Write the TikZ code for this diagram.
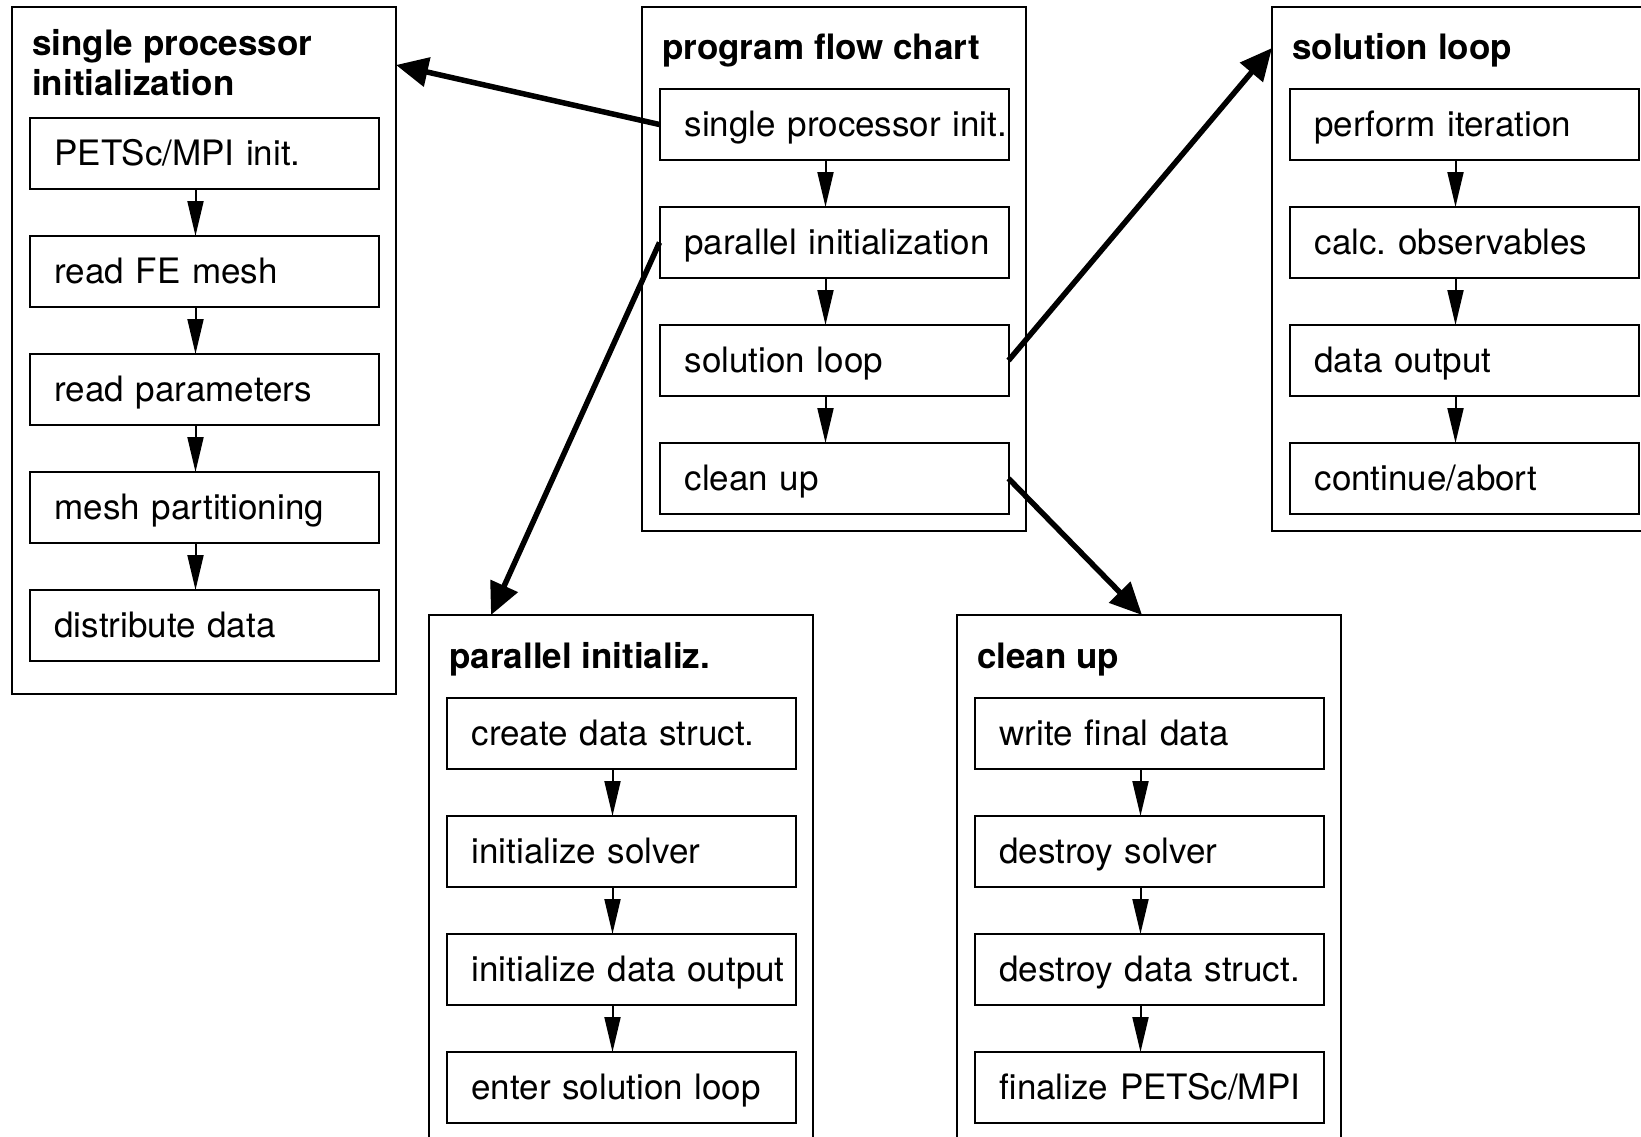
\documentclass[tikz,border=0pt]{standalone}
\usepackage{fontspec}
\setmainfont{TeX Gyre Heros}
\usetikzlibrary{arrows.meta,calc}
\frenchspacing
\newcommand\flowstepfont{\fontsize{35}{40}\selectfont}
\newcommand\flowheadfont{\fontsize{35}{40}\selectfont\bfseries}
\begin{document}
\begin{tikzpicture}[x=1pt,y=-1pt,
  group/.style={draw, line width=2.3pt, minimum width=384pt, anchor=north west,
    inner sep=0pt, outer sep=0pt},
  stepbox/.style={draw, line width=2pt, anchor=north west, minimum width=349pt,
    minimum height=71pt, inner sep=0pt, outer sep=0pt, text width=349pt, align=left,
    text height=23pt, text depth=0pt, font=\flowstepfont,
    execute at begin node={\hspace*{25pt}}},
  grouptitle/.style={anchor=base west, inner sep=0pt, font=\flowheadfont},
  flow/.style={line width=2pt, -{Triangle[length=35pt,width=16pt]}},
  link/.style={line width=5.5pt, -{Triangle[length=32pt,width=29pt]}},
]
\useasboundingbox (0,0) rectangle (1641,1137);
\clip (0,0) rectangle (1641,1137);
\fill[white] (0,0) rectangle (1641,1137);

% group frames
\node[group, minimum height=687pt] (spG) at (12,7) {};
\node[group, minimum height=524pt] (pfG) at (642,7) {};
\node[group, minimum height=524pt] (slG) at (1272,7) {};
\node[group, minimum height=560pt] (piG) at (429,615) {};
\node[group, minimum height=560pt] (cuG) at (957,615) {};

% group titles
\node[grouptitle] (spT) at (32,55.5)
  {\begin{tabular}[t]{@{}l@{}}single processor\\initialization\end{tabular}};
\node[grouptitle] (pfT) at (662,60) {program flow chart};
\node[grouptitle] (slT) at (1292,60) {solution loop};
\node[grouptitle] (piT) at (449,668.5) {parallel initializ.};
\node[grouptitle] (cuT) at (977,668) {clean up};

% single processor initialization
\node[stepbox] (sp1) at (29.5,118) {PETSc/MPI init.};
\node[stepbox] (sp2) at (29.5,236) {read FE mesh};
\node[stepbox] (sp3) at (29.5,354) {read parameters};
\node[stepbox] (sp4) at (29.5,472) {mesh partitioning};
\node[stepbox] (sp5) at (29.5,590) {distribute data};

% program flow chart
\node[stepbox] (pf1) at (659.5,89) {single processor init.};
\node[stepbox] (pf2) at (659.5,207) {parallel initialization};
\node[stepbox] (pf3) at (659.5,325) {solution loop};
\node[stepbox] (pf4) at (659.5,443) {clean up};

% solution loop
\node[stepbox] (sl1) at (1289.5,89) {perform iteration};
\node[stepbox] (sl2) at (1289.5,207) {calc. observables};
\node[stepbox] (sl3) at (1289.5,325) {data output};
\node[stepbox] (sl4) at (1289.5,443) {continue/abort};

% parallel initialization
\node[stepbox] (pi1) at (446.5,698) {create data struct.};
\node[stepbox] (pi2) at (446.5,816) {initialize solver};
\node[stepbox] (pi3) at (446.5,934) {initialize data output};
\node[stepbox] (pi4) at (446.5,1052) {enter solution loop};

% clean up
\node[stepbox] (cu1) at (974.5,698) {write final data};
\node[stepbox] (cu2) at (974.5,816) {destroy solver};
\node[stepbox] (cu3) at (974.5,934) {destroy data struct.};
\node[stepbox] (cu4) at (974.5,1052) {finalize PETSc/MPI};

% arrows inside each group
\foreach \g/\n in {sp/4, pf/3, sl/3, pi/3, cu/3} {
  \foreach \i in {1,...,\n} {
    \pgfmathtruncatemacro\j{\i+1}
    \draw[flow] ([xshift=-8.5pt]\g\i.south) -- ([xshift=-8.5pt]\g\j.north);
  }
}

% entry points of the detail groups
\coordinate (spIn) at ($(spG.north east)+(0,58)$);
\coordinate (piIn) at ($(piG.north west)+(62,0)$);
\coordinate (slIn) at ($(slG.north west)+(0,41)$);
\coordinate (cuIn) at ($(cuG.north west)+(185,0)$);

% links from the main chart to the detail groups
\draw[link] (pf1.west) -- (spIn);
\draw[link] (pf2.west) -- (piIn);
\draw[link] (pf3.east) -- (slIn);
\draw[link] (pf4.east) -- (cuIn);
\end{tikzpicture}
\end{document}
